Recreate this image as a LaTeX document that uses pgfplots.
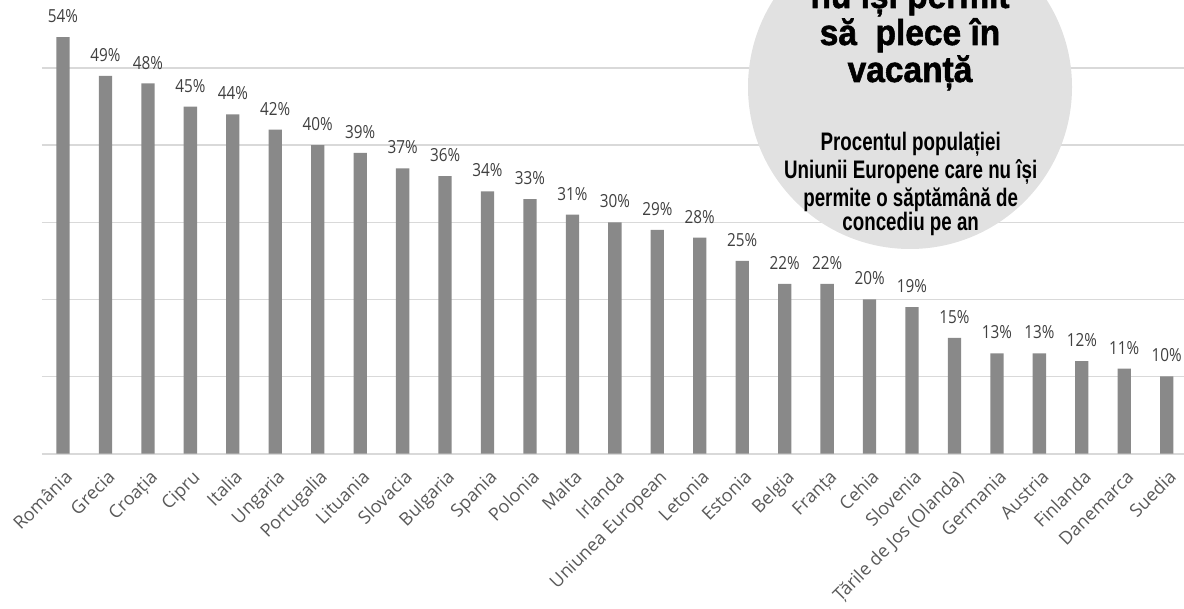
\documentclass[border=0pt]{standalone}
\usepackage{pgfplots}
\pgfplotsset{compat=1.18}
\usepackage{fontspec}
\setmainfont{Open Sans}
\newfontfamily\valfont{Open Sans}[FakeStretch=0.85]
\newfontfamily\titlefont{Liberation Sans}[FakeStretch=0.93, BoldFeatures={FakeBold=1.5}]
\newfontfamily\subfont{Liberation Sans}[FakeStretch=0.74]

\definecolor{barc}{HTML}{898989}
\definecolor{gridc}{HTML}{D9D9D9}
\definecolor{valc}{HTML}{404040}
\definecolor{tickc}{HTML}{595959}
\definecolor{circc}{HTML}{E1E1E1}

\begin{document}
\begin{tikzpicture}
\useasboundingbox (0,0) rectangle (888pt,456.75pt);
\clip (0,0) rectangle (888pt,456.75pt);
\begin{axis}[
    at={(31.35pt,116.6pt)}, anchor=south west,
    scale only axis,
    width=859.6pt, height=318pt,
    xmin=-0.5, xmax=26.5, ymin=0, ymax=55,
    axis x line*=bottom, axis y line*=left,
    x axis line style={-, gridc, line width=1.5pt},
    y axis line style={draw=none},
    ytick={10,20,30,40,50}, yticklabels={},
    ymajorgrids, grid style={gridc, line width=1pt},
    xtick={0,...,26},
    xticklabels={România, Grecia, Croația, Cipru, Italia, Ungaria, Portugalia,
        Lituania, Slovacia, Bulgaria, Spania, Polonia, Malta, Irlanda,
        Uniunea European, Letonia, Estonia, Belgia, Franța, Cehia, Slovenia,
        Țările de Jos (Olanda), Germania, Austria, Finlanda, Danemarca, Suedia},
    xticklabel style={xshift=8pt, yshift=-18.5pt, rotate=45, anchor=base east,
        inner sep=0pt, font=\fontsize{13.5}{15}\selectfont, text=tickc},
    major tick length=0pt,
    /pgf/number format/assume math mode=true,
    ybar, bar width=10pt,
    clip=false,
    nodes near coords={\pgfmathprintnumber{\pgfplotspointmeta}\%},
    every node near coord/.append style={font=\valfont\fontsize{13.5}{15}\selectfont,
        text=valc, inner sep=0pt, yshift=10.5pt},
]
\addplot[fill=barc, draw=none] coordinates {
    (0,54) (1,49) (2,48) (3,45) (4,44) (5,42) (6,40) (7,39) (8,37)
    (9,36) (10,34) (11,33) (12,31) (13,30) (14,29) (15,28) (16,25)
    (17,22) (18,22) (19,20) (20,19) (21,15) (22,13) (23,13) (24,12)
    (25,11) (26,10)
};
\end{axis}
\fill[circc] (682.5pt,391.5pt) circle (121.5pt);
\begin{scope}[every node/.style={anchor=base, inner sep=0pt}]
\node[font=\titlefont\bfseries\fontsize{27}{28}\selectfont] at (682.5pt,450.75pt) {nu își permit};
\node[font=\titlefont\bfseries\fontsize{27}{28}\selectfont] at (682.5pt,423pt) {să~ plece în};
\node[font=\titlefont\bfseries\fontsize{27}{28}\selectfont] at (682.5pt,395.25pt) {vacanță};
\node[font=\subfont\bfseries\fontsize{19}{20}\selectfont] at (683pt,343.7pt) {Procentul populației};
\node[font=\subfont\bfseries\fontsize{19}{20}\selectfont] at (683pt,323.2pt) {Uniunii Europene care nu își};
\node[font=\subfont\bfseries\fontsize{19}{20}\selectfont] at (683pt,302.2pt) {permite o săptămână de};
\node[font=\subfont\bfseries\fontsize{19}{20}\selectfont] at (683pt,283.5pt) {concediu pe an};
\end{scope}
\end{tikzpicture}
\end{document}
